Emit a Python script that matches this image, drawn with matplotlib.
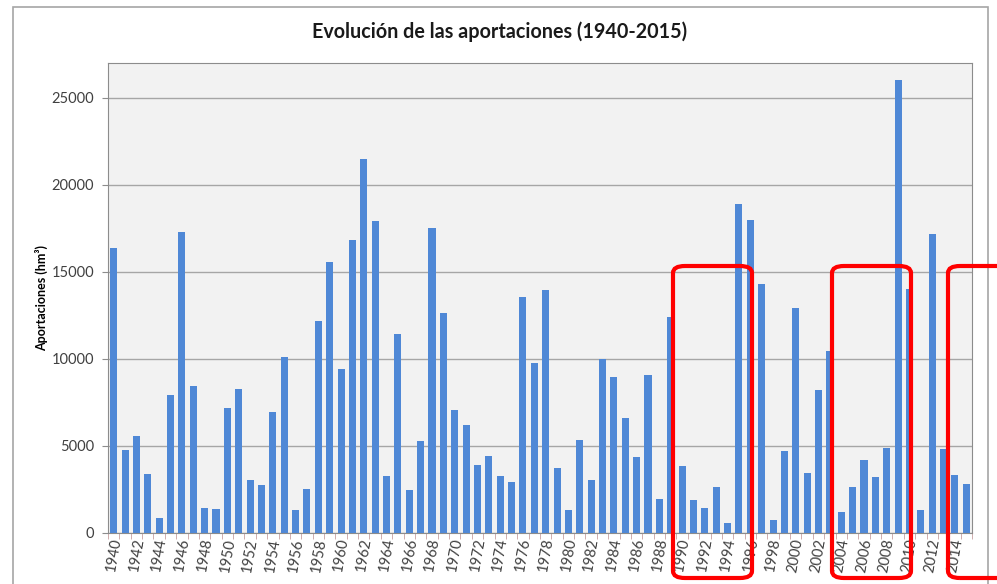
import matplotlib.pyplot as plt
from matplotlib.patches import FancyBboxPatch, Rectangle

# data
years = list(range(1940, 2016))
aportaciones = [16350, 4750, 5550, 3400, 850, 7950, 17300, 8450, 1450, 1400,
                7200, 8300, 3050, 2750, 6950, 10100, 1350, 2500, 12200, 15550,
                9450, 16850, 21500, 17950, 3250, 11450, 2450, 5300, 17550, 12650,
                7050, 6200, 3900, 4450, 3300, 2950, 13550, 9750, 13950, 3750,
                1350, 5350, 3050, 10000, 8950, 6600, 4350, 9050, 1950, 12400,
                3850, 1900, 1450, 2650, 600, 18900, 18000, 14300, 750, 4700,
                12900, 3450, 8200, 10450, 1200, 2650, 4200, 3200, 4900, 26000,
                14000, 1350, 17200, 4850, 3350, 2800]
yticks = [0, 5000, 10000, 15000, 20000, 25000]
title = "Evolución de las aportaciones (1940-2015)"
ylabel = "Aportaciones (hm³)"

plt.rcParams['font.family'] = ['Lato', 'DejaVu Sans']
txt = '#404040'

W, H = 997, 584
fig = plt.figure(figsize=(W / 100, H / 100), dpi=100)
ax = fig.add_axes([108 / W, 1 - 533 / H, (972 - 108) / W, (533 - 63) / H])

#outer chart border
fig.patches.append(Rectangle((13 / W, -0.1), (988 - 13) / W, 1.1 - 7 / H,
                             transform=fig.transFigure, fill=False,
                             edgecolor='#a6a6a6', linewidth=1.2))

x = list(range(len(years)))
ax.bar(x, aportaciones, width=0.62, color='#4f88d6', zorder=3)
ax.set_facecolor('#f2f2f2')
ax.set_xlim(-0.5, len(years) - 0.5)
ax.set_ylim(0, 27000)
ax.set_yticks(yticks)
ax.set_yticklabels([str(v) for v in yticks], fontsize=10.5, color=txt)
ax.yaxis.grid(True, color='#a6a6a6', linewidth=1, zorder=0)
ax.tick_params(axis='y', length=4, pad=6, color='#8c8c8c')

ax.set_xticks(x[::2])
ax.set_xticklabels([str(y) for y in years[::2]], rotation=80, fontsize=10.5,
                   color=txt)
ax.set_xticks([i - 0.5 for i in x] + [len(x) - 0.5], minor=True)
ax.tick_params(axis='x', which='major', length=0, pad=3)
ax.tick_params(axis='x', which='minor', length=4, color='#c8a0a0')

for side in ['top', 'right', 'left', 'bottom']:
    ax.spines[side].set_color('#8c8c8c')

ax.set_ylabel(ylabel, fontsize=9, fontweight='bold')
ax.yaxis.set_label_coords(-0.069, 0.5)
fig.text(500 / W, 1 - 32 / H, title, ha='center', va='center',
         fontsize=14.2, fontweight='bold', color='#1a1a1a')

#red highlight boxes
for x0, x1 in [(673, 752), (832, 911), (948, 1010)]:
    box = FancyBboxPatch((x0 / W, 1 - 578 / H), (x1 - x0) / W, (578 - 266) / H,
                         boxstyle="round,pad=0,rounding_size=0.012",
                         transform=fig.transFigure, fill=False,
                         edgecolor='red', linewidth=3, clip_on=False)
    fig.patches.append(box)

fig.savefig('out.png', dpi=100)
